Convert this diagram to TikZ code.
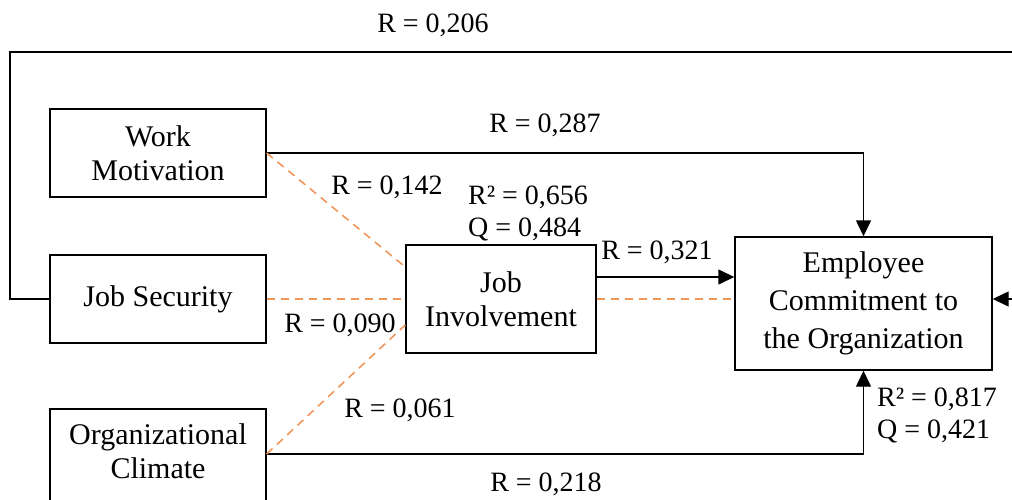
\documentclass[tikz,border=0pt]{standalone}
\usepackage{fontspec}
\setmainfont{Liberation Serif}
\usetikzlibrary{arrows.meta}

\definecolor{dashorange}{RGB}{240,150,90}

\tikzset{
  box/.style={draw,line width=0.7pt,align=center,font=\fontsize{15}{17}\selectfont},
  coef/.style={font=\fontsize{14}{16}\selectfont,inner sep=0pt},
  path/.style={line width=0.7pt,-{Triangle[length=8pt,width=7.5pt]}},
  weak/.style={dashorange,line width=0.8pt,dash pattern=on 4pt off 3pt}
}

\begin{document}
\begin{tikzpicture}[x=0.5pt,y=-0.5pt]
            \useasboundingbox (0,0) rectangle (1012,499);

            \node[box,minimum width=108pt,minimum height=44pt] (WM) at (158,153) {Work\\Motivation};
            \node[box,minimum width=108pt,minimum height=44pt] (JS) at (158,299) {Job Security};
            \node[box,minimum width=108pt,minimum height=46pt,text depth=4pt] (OC) at (158,455) {Organizational\\Climate};

            \node[box,minimum width=95pt,minimum height=54pt] (JI) at (501,299) {Job\\Involvement};
            \node[box,minimum width=128.5pt,minimum height=66.5pt,font=\fontsize{15}{19}\selectfont] (EC) at (863.5,303.5) {Employee\\Commitment to\\the Organization};

            \coordinate (tl) at (10,52);
            \coordinate (tr) at (1022,52);

            % direct paths
            \draw[path] (WM.east) -| (EC.north);
            \draw[path] (OC.east |- 0,454) -| (EC.south);
            \draw[path] ([yshift=11pt]JI.east) -- ([yshift=11pt]JI.east -| EC.west);
            \draw[path] (JS.west) -| (tl) -- (tr) |- (EC.east |- JS.west);

            % mediated paths
            \draw[weak] (WM.east) -- ([yshift=16pt]JI.west);
            \draw[weak] (JS.east) -- (JI.west);
            \draw[weak] (OC.east |- 0,454) -- ([yshift=-13pt]JI.west);
            \draw[weak] (JI.east) -- (EC.west |- JI.east);

            \node[coef] (r206) at (433,25) {R = 0,206};
            \node[coef] (r287) at (545,125) {R = 0,287};
            \node[coef] (r142) at (387,187) {R = 0,142};
            \node[coef,align=left,font=\fontsize{14}{16}\selectfont] (ji) at (528,213) {R² = 0,656\\Q = 0,484};
            \node[coef] (r321) at (657,252) {R = 0,321};
            \node[coef] (r090) at (340,325) {R = 0,090};
            \node[coef] (r061) at (400,410) {R = 0,061};
            \node[coef] (r218) at (546,484) {R = 0,218};
            \node[coef,align=left,font=\fontsize{14}{16}\selectfont] (ec) at (937,415) {R² = 0,817\\Q = 0,421};

            \end{tikzpicture}
\end{document}
